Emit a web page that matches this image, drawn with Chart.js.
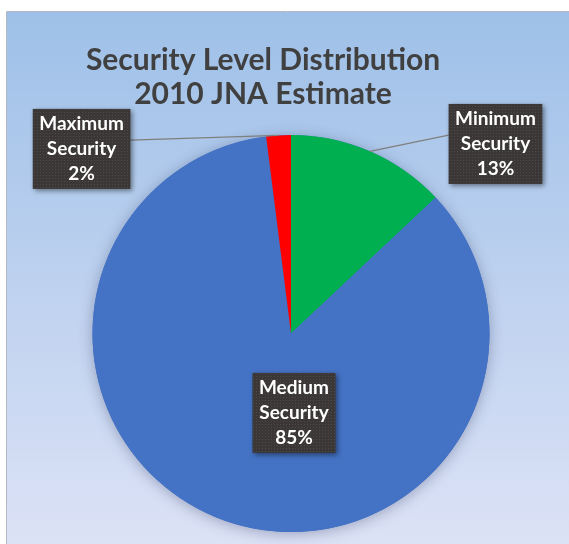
<!DOCTYPE html>
<html lang="en">

<head>
    <meta charset="UTF-8">
    <meta name="viewport" content="width=device-width, initial-scale=1.0">
    <script src="https://cdn.jsdelivr.net/npm/chart.js@4.4.1/dist/chart.umd.min.js"></script>
    <title>Security Level Distribution</title>
    <style>
        body {
            margin: 0;
            background: #fff;
        }

        #wrap {
            width: 569px;
            height: 544px;
            position: relative;
        }
    </style>
</head>

<body>
    <div id="wrap">
        <canvas id="pie"></canvas>
    </div>
</body>
<script>
    const titleLines = ['Security Level Distribution', '2010 JNA Estimate'];
    const categories = ['Minimum Security', 'Medium Security', 'Maximum Security'];
    const shares = [13, 85, 2];
    const sliceColors = ['#00B050', '#4472C4', '#FF0000'];

    // where each callout box sits, relative to the pie centre (in radii)
    const calloutSpots = [[1.03, -0.955], [0.015, 0.40], [-1.055, -0.93]];
    const calloutLeader = [true, false, true];

    const FONT = 'Lato, "Open Sans", sans-serif';

    // small dotted texture for the callout boxes
    function dotPattern(ctx) {
        const c = document.createElement('canvas');
        c.width = 3;
        c.height = 3;
        const p = c.getContext('2d');
        p.fillStyle = '#3a3736';
        p.fillRect(0, 0, 3, 3);
        p.fillStyle = '#4d4947';
        p.fillRect(1, 1, 1, 1);
        return ctx.createPattern(c, 'repeat');
    }

    const backdrop = {
        id: 'backdrop',
        beforeDraw(chart) {
            const { ctx, width, height } = chart;
            ctx.save();
            ctx.fillStyle = '#fff';
            ctx.fillRect(0, 0, width, height);
            const g = ctx.createLinearGradient(0, 12, 0, height);
            g.addColorStop(0, '#9ec0e8');
            g.addColorStop(1, '#dce2f6');
            ctx.fillStyle = g;
            ctx.fillRect(6, 12, width - 6, height - 12);
            ctx.strokeStyle = '#b4b8c0';
            ctx.lineWidth = 1;
            ctx.beginPath();
            ctx.moveTo(6.5, height);
            ctx.lineTo(6.5, 11.5);
            ctx.lineTo(width, 11.5);
            ctx.stroke();

            ctx.fillStyle = '#404040';
            ctx.font = 'bold 30px ' + FONT;
            ctx.textAlign = 'center';
            ctx.textBaseline = 'middle';
            titleLines.forEach((t, i) => ctx.fillText(t, 263, 60 + i * 34));
            ctx.restore();
        },
        beforeDatasetsDraw(chart) {
            // soft shadow under the whole pie
            const arc = chart.getDatasetMeta(0).data[0];
            if (!arc) return;
            const { ctx } = chart;
            ctx.save();
            ctx.shadowColor = 'rgba(40, 50, 90, 0.35)';
            ctx.shadowBlur = 14;
            ctx.shadowOffsetY = 2;
            ctx.fillStyle = sliceColors[1];
            ctx.beginPath();
            ctx.arc(arc.x, arc.y, arc.outerRadius, 0, Math.PI * 2);
            ctx.fill();
            ctx.restore();
        }
    };

    const callouts = {
        id: 'callouts',
        afterDatasetsDraw(chart) {
            const { ctx } = chart;
            const meta = chart.getDatasetMeta(0);
            const total = shares.reduce((a, b) => a + b, 0);
            ctx.save();
            ctx.font = 'bold 19px ' + FONT;
            const fill = dotPattern(ctx);
            meta.data.forEach((arc, i) => {
                const r = arc.outerRadius;
                const cx = arc.x + calloutSpots[i][0] * r;
                const cy = arc.y + calloutSpots[i][1] * r;
                const words = categories[i].split(' ');
                const lines = [words[0], words.slice(1).join(' '), Math.round(shares[i] / total * 100) + '%'];
                const tw = Math.max(...lines.map(l => ctx.measureText(l).width));
                const w = tw + 13, h = 80;
                const x0 = cx - w / 2, y0 = cy - h / 2;

                if (calloutLeader[i]) {
                    const mid = (arc.startAngle + arc.endAngle) / 2;
                    const ax = arc.x + Math.cos(mid) * r;
                    const ay = arc.y + Math.sin(mid) * r;
                    const bx = cx < arc.x ? x0 + w : x0;
                    const by = y0 + h * 0.39;
                    ctx.strokeStyle = '#7f7f7f';
                    ctx.lineWidth = 1.3;
                    ctx.beginPath();
                    ctx.moveTo(ax, ay);
                    ctx.lineTo(bx, by);
                    ctx.stroke();
                }

                ctx.save();
                ctx.shadowColor = 'rgba(0, 0, 0, 0.45)';
                ctx.shadowBlur = 5;
                ctx.shadowOffsetX = 2;
                ctx.shadowOffsetY = 2;
                ctx.fillStyle = fill;
                ctx.fillRect(x0, y0, w, h);
                ctx.restore();

                ctx.fillStyle = '#ffffff';
                ctx.textAlign = 'center';
                ctx.textBaseline = 'middle';
                lines.forEach((l, k) => ctx.fillText(l, cx, cy + (k - 1) * 25));
            });
            ctx.restore();
        }
    };

    const ctx = document.getElementById('pie').getContext('2d');
    const chart = new Chart(ctx, {
        type: 'pie',
        data: {
            labels: categories,
            datasets: [{
                data: shares,
                backgroundColor: sliceColors,
                borderWidth: 0,
                hoverOffset: 0,
                offset: 0
            }]
        },
        options: {
            responsive: true,
            maintainAspectRatio: false,
            animation: false,
            events: [],
            layout: {
                padding: { top: 135, bottom: 12, left: 13, right: 0 }
            },
            plugins: {
                legend: { display: false },
                tooltip: { enabled: false },
                title: { display: false }
            }
        },
        plugins: [backdrop, callouts]
    });
</script>

</html>
